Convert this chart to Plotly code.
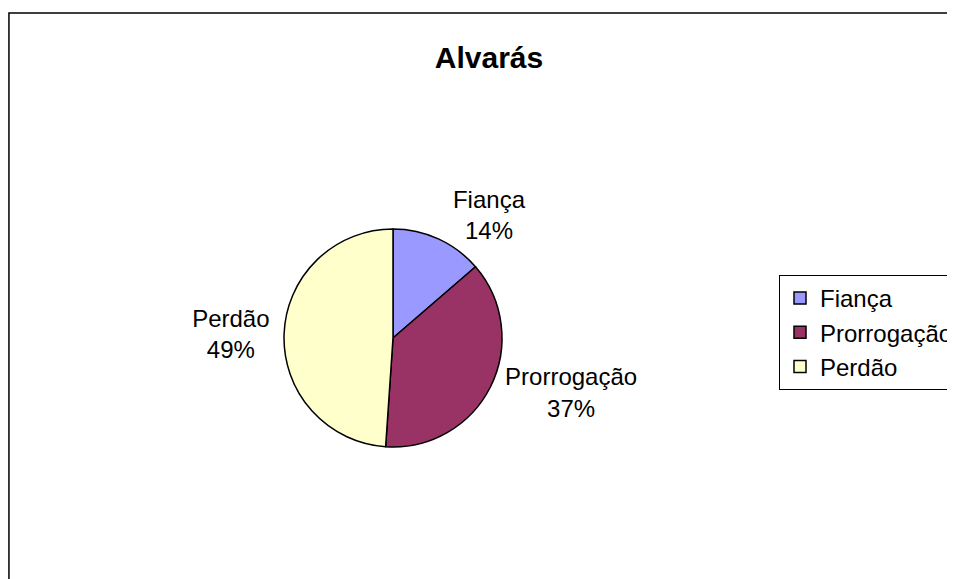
import plotly.graph_objects as go

categories = ["Fiança", "Prorrogação", "Perdão"]
values = [19, 52, 68]
colors = ["#9999FF", "#993366", "#FFFFCC"]
title_text = "Alvarás"

# page has an 8px body margin; size the figure to the visible area
OFF = 8
W, H = 955 - OFF, 579 - OFF
cx, cy, r = 393 - OFF, 338 - OFF, 109

FONT = "Liberation Sans, Arial, sans-serif"

fig = go.Figure(go.Pie(
    labels=categories,
    values=values,
    sort=False,
    direction="clockwise",
    rotation=0,
    marker=dict(colors=colors, line=dict(color="black", width=1.5)),
    texttemplate="%{label}<br>%{percent:.0%}",
    textposition="outside",
    textfont=dict(family=FONT, size=24, color="black"),
    domain=dict(x=[(cx - r) / W, (cx + r) / W], y=[1 - (cy + r) / H, 1 - (cy - r) / H]),
    showlegend=True,
    hoverinfo="label+percent",
))

fig.update_layout(
    width=W, height=H,
    margin=dict(l=0, r=0, t=0, b=0, autoexpand=False),
    paper_bgcolor="white",
    plot_bgcolor="white",
    font=dict(family=FONT, color="black"),
    title=dict(text="<b>" + title_text + "</b>", x=(489 - OFF) / W, xanchor="center",
               y=1 - (57 - OFF) / H, yanchor="middle",
               font=dict(size=30, family=FONT, color="black")),
    legend=dict(x=(779 - OFF) / W, xanchor="left", y=1 - (275 - OFF) / H, yanchor="top",
                bgcolor="white", bordercolor="black", borderwidth=1,
                font=dict(size=24, family=FONT, color="black"),
                itemwidth=30),
    shapes=[dict(type="rect", xref="paper", yref="paper",
                 x0=0.001, x1=1.02, y0=-0.02, y1=1 - (13 - OFF) / H,
                 line=dict(color="black", width=1.5), fillcolor="rgba(0,0,0,0)",
                 layer="below")],
)

fig.write_html("out.html")
